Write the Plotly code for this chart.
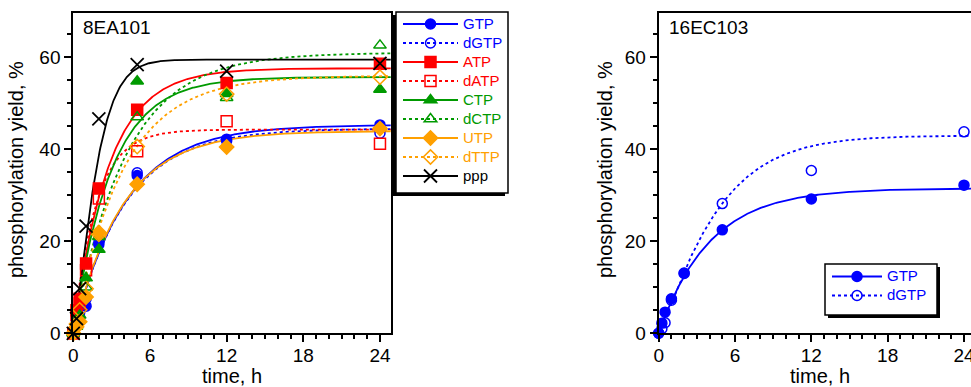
import numpy as np
import plotly.graph_objects as go

W, H = 971, 387

# ---------------- data ----------------
time_h = [0, 0.25, 0.5, 1, 2, 5, 12, 24]

# panel 8EA101 (phosphorylation yield, %)
GTP_a = [0, 2.0, 3.5, 5.9, 19.3, 34.3, 42.2, 45.3]
dGTP_a = [0, 2.5, 4.5, 7.5, 19.8, 34.9, 41.8, 43.5]
ATP_a = [0, 5.0, 7.5, 15.2, 31.5, 48.6, 54.4, 58.6]
dATP_a = [0, 4.0, 6.5, 13.7, 29.3, 39.6, 46.1, 41.2]
CTP_a = [0, 2.0, 3.9, 12.0, 18.2, 54.8, 52.1, 53.0]
dCTP_a = [0, 1.5, 3.0, 10.0, 21.0, 47.0, 51.2, 62.6]
UTP_a = [0, 1.4, 2.5, 7.9, 21.9, 32.4, 40.5, 44.5]
dTTP_a = [0, 2.0, 5.1, 9.7, 21.5, 40.6, 52.0, 55.7]
ppp_a = [0, 3.2, 9.7, 23.3, 46.6, 58.4, 57.0, 58.7]

# panel 16EC103
GTP_b = [0, 2.2, 4.6, 7.5, 13.1, 22.5, 29.2, 32.2]
dGTP_b = [0, 1.0, 2.3, 7.2, 13.0, 28.2, 35.4, 43.8]

# fitted kinetic curves: y = A * (1 - exp(-(k t)^n))
names_a = ["GTP", "dGTP", "ATP", "dATP", "CTP", "dCTP", "UTP", "dTTP", "ppp"]
values_a = [GTP_a, dGTP_a, ATP_a, dATP_a, CTP_a, dCTP_a, UTP_a, dTTP_a, ppp_a]
fit_A_a = [45.3, 44.5, 57.6, 44.3, 55.7, 61.0, 44.0, 56.0, 59.5]
fit_k_a = [0.245, 0.25, 0.36, 0.56, 0.34, 0.245, 0.26, 0.26, 0.52]
fit_n_a = [1, 1, 1, 1, 1, 1, 1, 1, 1.3]

names_b = ["GTP", "dGTP"]
values_b = [GTP_b, dGTP_b]
fit_A_b = [31.5, 43.0]
fit_k_b = [0.25, 0.212]
fit_n_b = [1, 1.15]

# ---------------- styles ----------------
BLUE, RED, GREEN, ORANGE, BLACK = "#0000ff", "#ff0000", "#009a00", "#ffa000", "#000000"
style = {
    "GTP": (BLUE, "circle", "solid"),
    "dGTP": (BLUE, "circle-open", "dot"),
    "ATP": (RED, "square", "solid"),
    "dATP": (RED, "square-open", "dot"),
    "CTP": (GREEN, "triangle-up", "solid"),
    "dCTP": (GREEN, "triangle-up-open", "dot"),
    "UTP": (ORANGE, "diamond", "solid"),
    "dTTP": (ORANGE, "diamond-open", "dot"),
    "ppp": (BLACK, "x-thin-open", "solid"),
}
msize = {"circle": 10, "circle-open": 10, "square": 11, "square-open": 11,
         "triangle-up": 11, "triangle-up-open": 11, "diamond": 11,
         "diamond-open": 11, "x-thin-open": 13}

FONT = "Liberation Sans, Arial, sans-serif"
fig = go.Figure()


def add_panel(names, values, A, k, n, xa, ya, legend, tmax):
    tt = np.linspace(0, tmax, 400)
    for i, nm in enumerate(names):
        col, sym, dash = style[nm]
        yfit = A[i] * (1 - np.exp(-(k[i] * tt) ** n[i]))
        fig.add_trace(go.Scatter(x=tt, y=yfit, mode="lines", xaxis=xa, yaxis=ya,
                                 line=dict(color=col, width=1.8, dash=dash),
                                 showlegend=False, hoverinfo="skip"))
    for i, nm in enumerate(names):
        col, sym, dash = style[nm]
        lw = 1.8 if sym == "x-thin-open" else 1.5
        fig.add_trace(go.Scatter(x=time_h, y=values[i], mode="markers", xaxis=xa, yaxis=ya,
                                 marker=dict(symbol=sym, size=msize[sym], color=col,
                                             line=dict(color=col, width=lw)),
                                 cliponaxis=False, showlegend=False, name=nm))
    for i, nm in enumerate(names):
        col, sym, dash = style[nm]
        lw = 1.8 if sym == "x-thin-open" else 1.5
        fig.add_trace(go.Scatter(x=[None], y=[None], mode="lines+markers", xaxis=xa, yaxis=ya,
                                 line=dict(color=col, width=1.8, dash=dash),
                                 marker=dict(symbol=sym, size=msize[sym], color=col,
                                             line=dict(color=col, width=lw)),
                                 name=f'<span style="color:{col};font-size:15px">{nm}</span>',
                                 legend=legend, showlegend=True))


add_panel(names_a, values_a, fit_A_a, fit_k_a, fit_n_a, "x", "y", "legend", 24.9)
add_panel(names_b, values_b, fit_A_b, fit_k_b, fit_n_b, "x2", "y2", "legend2", 24.6)

yd = [(H - 333.3) / H, (H - 12.7) / H]


def xaxis(domain, rng, mirror):
    return dict(domain=domain, range=rng, tick0=0, dtick=6, ticks="outside", ticklen=7,
                tickwidth=2, tickcolor="black", showline=True, linewidth=2, linecolor="black",
                mirror=mirror, showgrid=False, zeroline=False, automargin=False,
                ticklabeloverflow="allow", ticklabelstandoff=-3,
                tickfont=dict(family=FONT, size=19, color="black"),
                minor=dict(dtick=1, ticklen=4, tickwidth=1.5, tickcolor="black", ticks="outside"))


def yaxis(rng, mirror, anchor):
    return dict(domain=yd, range=rng, tick0=0, dtick=20, ticks="outside", ticklen=7,
                tickwidth=2, tickcolor="black", showline=True, linewidth=2, linecolor="black",
                mirror=mirror, showgrid=False, zeroline=False, anchor=anchor, automargin=False,
                tickfont=dict(family=FONT, size=19, color="black"),
                minor=dict(dtick=5, ticklen=4, tickwidth=1.5, tickcolor="black", ticks="outside"))


def px_x(p):
    return p / W


def px_y(p):
    return (H - p) / H


def box(x0, x1, y0, y1, dx, dy):
    """legend frame with drop shadow, given in pixels"""
    return [
        dict(type="rect", xref="paper", yref="paper", layer="above",
             x0=px_x(x0 + dx), x1=px_x(x1 + dx), y0=px_y(y1 + dy), y1=px_y(y0 + dy),
             fillcolor="black", line=dict(width=0)),
        dict(type="rect", xref="paper", yref="paper", layer="above",
             x0=px_x(x0), x1=px_x(x1), y0=px_y(y1), y1=px_y(y0),
             fillcolor="white", line=dict(color="black", width=1.5)),
    ]


shapes = box(396, 508, 12, 193, -3, 3) + box(825, 937, 264, 315, 3, 3)

title_font = dict(family=FONT, size=20, color="black")
annotations = [
    dict(text="8EA101", x=px_x(81), y=px_y(27), xanchor="left",
         font=dict(family=FONT, size=19, color="black")),
    dict(text="16EC103", x=px_x(667), y=px_y(27), xanchor="left",
         font=dict(family=FONT, size=19, color="black")),
    dict(text="time, h", x=px_x(232), y=px_y(376), xanchor="center", font=title_font),
    dict(text="time, h", x=px_x(820), y=px_y(376), xanchor="center", font=title_font),
    dict(text="phosphorylation yield, %", x=px_x(16), y=px_y(170), textangle=-90,
         xanchor="center", font=title_font),
    dict(text="phosphorylation yield, %", x=px_x(605), y=px_y(170), textangle=-90,
         xanchor="center", font=title_font),
]
for a in annotations:
    a.update(xref="paper", yref="paper", yanchor="middle", showarrow=False)

fig.update_layout(
    width=W, height=H, margin=dict(l=0, r=0, t=0, b=0),
    paper_bgcolor="white", plot_bgcolor="white",
    xaxis=xaxis([73.3 / W, 390.7 / W], [0, 24.84], True),
    yaxis=yaxis([0, 69.7], True, "x"),
    xaxis2=dict(xaxis([658.7 / W, 1.0], [0, 24.55], True), anchor="y2"),
    yaxis2=yaxis([0, 69.7], False, "x2"),
    legend=dict(x=px_x(398), y=px_y(9.5), xanchor="left", yanchor="top",
                bgcolor="rgba(0,0,0,0)", borderwidth=0,
                font=dict(family=FONT, size=12), itemwidth=55, tracegroupgap=0),
    legend2=dict(x=px_x(827), y=px_y(262), xanchor="left", yanchor="top",
                 bgcolor="rgba(0,0,0,0)", borderwidth=0,
                 font=dict(family=FONT, size=12), itemwidth=50, tracegroupgap=0),
    shapes=shapes,
    annotations=annotations,
)

fig.write_html("out.html")
